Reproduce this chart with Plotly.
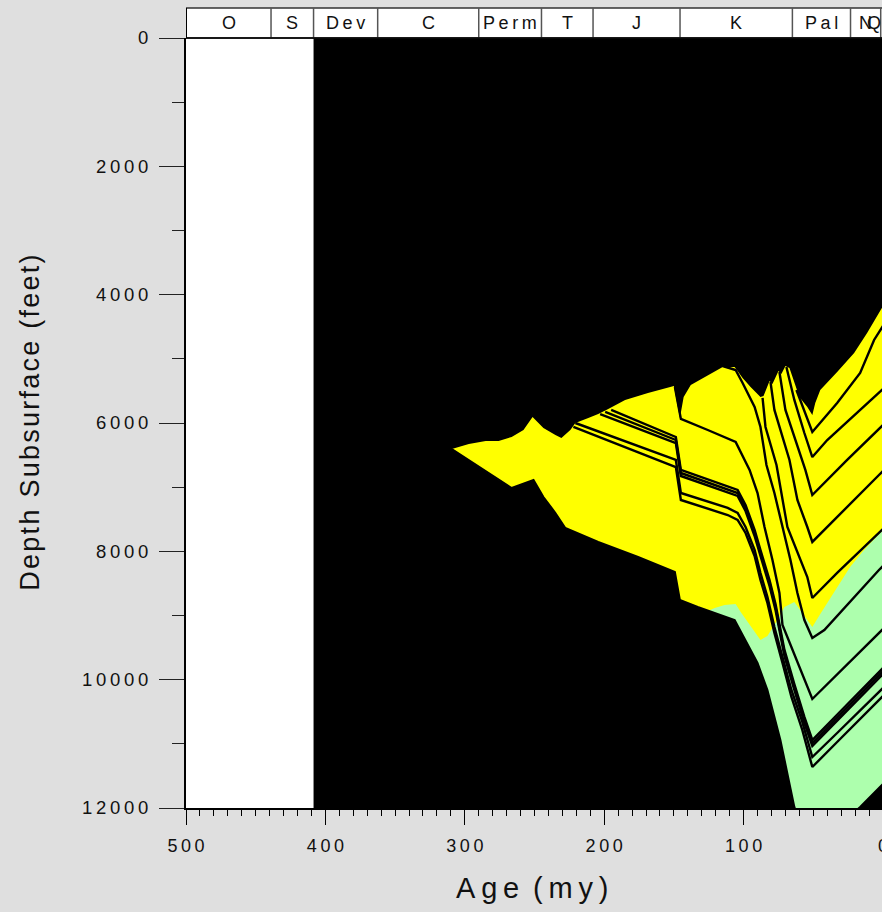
import plotly.graph_objects as go
import numpy as np

# ---------------- data ----------------
PERIODS = ["O", "S", "Dev", "C", "Perm", "T", "J", "K", "Pal", "N", "Q"]
PERIOD_START = [510, 439, 408.5, 362.5, 290, 245, 208, 145.6, 65, 23.3, 1.64]
PERIOD_END = [439, 408.5, 362.5, 290, 245, 208, 145.6, 65, 23.3, 1.64, 0]

X_TICKS = [500, 450, 400, 350, 300, 250, 200, 150, 100, 50, 0]
X_TICK_TEXT = ["500", "", "400", "", "300", "", "200", "", "100", "", "0"]
Y_TICKS = [0, 2000, 4000, 6000, 8000, 10000, 12000]

# maturity zones (age in my, depth in feet)
YELLOW_TOP_AGE = [309.3, 297.1, 285, 275.7, 266.4, 257.9, 251.4, 243.6, 235, 230.7, 224.3, 220.7,
                  211.4, 204.3, 197.1, 185, 168.6, 154.3, 150, 145.7, 143, 137.9, 125.7, 115, 106.4,
                  100.7, 95, 87.9, 85.7, 81.4, 79.3, 75, 72.9, 70, 67.1, 60, 54.3, 50.7, 48.6, 45,
                  32.9, 20.7, 11.4, 2.9, 0]
YELLOW_TOP_DEPTH = [6405, 6327, 6280, 6280, 6218, 6109, 5906, 6078, 6187, 6234, 6109, 6000,
                    5922, 5860, 5782, 5641, 5532, 5439, 5423, 5922, 5595, 5408, 5252, 5127, 5127,
                    5299, 5439, 5595, 5579, 5345, 5392, 5190, 5236, 5112, 5143, 5595, 5750, 5875, 5688, 5486,
                    5205, 4909, 4597, 4286, 4177]
GREEN_TOP_AGE = [125.7, 120.7, 113.6, 105.7, 102.1, 95, 87.9, 82.9, 75.7, 70.7, 63.6, 56.4, 50.7,
                 45, 32.9, 23.6, 13.6, 2.9, 0]
GREEN_TOP_DEPTH = [8930, 8883, 8836, 8820, 8945, 9163, 9382, 9319, 9070, 8867, 8789, 9008, 9179,
                   8976, 8571, 8244, 7979, 7745, 7667]

# burial curves
BASEMENT_AGE = [309.3, 275.7, 266.4, 250.7, 243.6, 235, 227.9, 204.3, 175.7, 149.3, 145.7, 132.9,
                106.4, 90, 82.9, 73.6, 63.6, 50.7, 16.4, 2.9, 0]
BASEMENT_DEPTH = [6405, 6888, 7013, 6888, 7153, 7402, 7636, 7854, 8088, 8322, 8758, 8867,
                  9070, 9740, 10161, 10940, 11984, 12654, 11984, 11688, 11626]

P_BOT_AGE = [222.1, 148.6, 145, 111.4, 104.3, 98.6, 92.1, 87.9, 82.9, 77.9, 72.1, 65.7, 57.9, 50.7, 32.9, 2.9, 0]
P_BOT_DEPTH = [6062, 6686, 7200, 7434, 7511, 7714, 8072, 8447, 8805, 9272, 9740, 10270, 10784, 11361, 10971, 10317, 10254]
P_TOP_AGE = [220.7, 148.6, 145, 111.4, 104.3, 98.6, 92.1, 87.9, 82.9, 77.9, 72.1, 65.7, 57.9, 50.7, 32.9, 2.9, 0]
P_TOP_DEPTH = [6000, 6576, 7091, 7324, 7402, 7621, 7979, 8337, 8711, 9179, 9646, 10161, 10658, 11205, 10831, 10192, 10130]

B_AGE = [148.6, 145, 104.3, 98.6, 92.1, 87.9, 81.4, 77.1, 70.7, 63.6, 56.4, 50.7, 32.9, 2.9, 0]
B_BOT_START = [202.9, 5860]
B_BOT_DEPTH = [6312, 6826, 7137, 7371, 7761, 8072, 8540, 8914, 9631, 10161, 10675, 11033, 10644, 9974, 9912]
B_MID_START = [199.3, 5828]
B_MID_DEPTH = [6265, 6779, 7091, 7324, 7714, 8026, 8493, 8867, 9584, 10114, 10628, 10987, 10597, 9927, 9865]
B_TOP_START = [195, 5797]
B_TOP_DEPTH = [6218, 6732, 7044, 7278, 7667, 7979, 8447, 8820, 9537, 10067, 10581, 10940, 10550, 9880, 9818]

C_AGE = [149.3, 145, 125.7, 105.7, 95.7, 90, 85, 79.3, 74.3, 72.1, 50.7, 2.9, 0]
C_DEPTH = [5439, 5937, 6109, 6296, 6732, 7091, 7621, 8135, 8649, 9148, 10301, 9272, 9210]
D_AGE = [115, 105.7, 100.7, 92.1, 87.9, 83.6, 77.9, 72.1, 66.4, 61.4, 56.4, 50.7, 42.1, 2.9, 0]
D_DEPTH = [5112, 5174, 5376, 5750, 6062, 6655, 7091, 7621, 8135, 8649, 9070, 9350, 9226, 8291, 8228]
E_AGE = [86.4, 84.3, 76.4, 68.6, 54.3, 50.7, 32.9, 2.9, 0]
E_DEPTH = [5610, 6062, 6655, 7621, 8400, 8727, 8337, 7714, 7652]
F_AGE = [80.7, 77.9, 67.1, 61.4, 54.3, 50.7, 2.9, 0]
F_DEPTH = [5361, 5797, 6576, 7200, 7621, 7854, 6810, 6748]
G_AGE = [74.3, 70, 55.7, 50.7, 25.7, 2.9, 0]
G_DEPTH = [5205, 5797, 6732, 7122, 6576, 6078, 6031]
H_AGE = [69.3, 63.6, 56.4, 50.7, 40, 16.4, 2.9, 0]
H_DEPTH = [5127, 5641, 6156, 6530, 6265, 5797, 5532, 5470]
I_AGE = [62.1, 50.7, 32.9, 16.4, 6.4, 2.9, 0]
I_DEPTH = [5486, 6140, 5688, 5221, 4706, 4582, 4488]

YELLOW = "#ffff00"
GREEN = "#adffad"
FONT = "Liberation Sans"
TS = "\u2009"


def spaced(s):
    return TS.join(s)


fig = go.Figure()


def poly(xs, ys, color):
    fig.add_trace(go.Scatter(x=xs, y=ys, mode="lines", fill="toself", fillcolor=color,
                             line=dict(width=0, color=color), hoverinfo="skip", showlegend=False))


def curve(xs, ys, width=2.4):
    fig.add_trace(go.Scatter(x=xs, y=ys, mode="lines", line=dict(color="black", width=width),
                             hoverinfo="skip", showlegend=False))


# black background from start of Devonian to present
dev = PERIOD_START[2]
poly([dev, -10, -10, dev], [-500, -500, 14000, 14000], "black")

# yellow (oil window) zone
poly(YELLOW_TOP_AGE + BASEMENT_AGE[::-1], YELLOW_TOP_DEPTH + BASEMENT_DEPTH[::-1], YELLOW)

# green (gas window) zone
g0 = GREEN_TOP_AGE[0]
sub = [(a, d) for a, d in zip(BASEMENT_AGE, BASEMENT_DEPTH) if a < g0]
g0d = float(np.interp(g0, BASEMENT_AGE[::-1], BASEMENT_DEPTH[::-1]))
poly(GREEN_TOP_AGE + [a for a, _ in reversed(sub)] + [g0],
     GREEN_TOP_DEPTH + [d for _, d in reversed(sub)] + [g0d], GREEN)

# horizons
curve(BASEMENT_AGE, BASEMENT_DEPTH, 2)
curve(P_BOT_AGE, P_BOT_DEPTH)
curve(P_TOP_AGE, P_TOP_DEPTH)
curve([B_BOT_START[0]] + B_AGE, [B_BOT_START[1]] + B_BOT_DEPTH)
curve([B_MID_START[0]] + B_AGE, [B_MID_START[1]] + B_MID_DEPTH)
curve([B_TOP_START[0]] + B_AGE, [B_TOP_START[1]] + B_TOP_DEPTH)
for xs, ys in [(C_AGE, C_DEPTH), (D_AGE, D_DEPTH), (E_AGE, E_DEPTH), (F_AGE, F_DEPTH),
               (G_AGE, G_DEPTH), (H_AGE, H_DEPTH), (I_AGE, I_DEPTH)]:
    curve(xs, ys)

# ---------------- layout ----------------
W, H = 900, 912
ML, MR, MT, MB = 186, 14, 38, 104
PH = H - MT - MB
PW = W - ML - MR
band_top = 1 + 30 / PH

shapes = []
# time-scale band
shapes.append(dict(type="rect", xref="x", yref="paper", x0=500, x1=0, y0=1, y1=band_top,
                   fillcolor="white", line=dict(color="#333333", width=1.5), layer="above"))
for b in PERIOD_END[:-1]:
    if b < 500:
        shapes.append(dict(type="line", xref="x", yref="paper", x0=b, x1=b, y0=1, y1=band_top,
                           line=dict(color="#555555", width=1.5)))
shapes.append(dict(type="line", xref="x", yref="paper", x0=500, x1=500, y0=1, y1=band_top,
                   line=dict(color="black", width=2)))
shapes.append(dict(type="line", xref="x", yref="paper", x0=500, x1=0, y0=1, y1=1,
                   line=dict(color="black", width=1.5)))

annotations = []
for name, s, e in zip(PERIODS, PERIOD_START, PERIOD_END):
    s2 = min(s, 500)
    if name == "Q":
        annotations.append(dict(x=e, y=(1 + band_top) / 2, xref="x", yref="paper", text=spaced(name),
                                showarrow=False, xanchor="right", yanchor="middle",
                                font=dict(family=FONT, size=18, color="#111")))
    else:
        annotations.append(dict(x=(s2 + e) / 2, y=(1 + band_top) / 2, xref="x", yref="paper",
                                text=spaced(name), showarrow=False, xanchor="center", yanchor="middle",
                                font=dict(family=FONT, size=18, color="#111")))

annotations.append(dict(x=(533 - ML) / PW, y=-(888 - (MT + PH)) / PH, xref="paper", yref="paper",
                        text=spaced("Age") + " " + TS + spaced("(my)"), showarrow=False,
                        xanchor="center", yanchor="middle",
                        font=dict(family=FONT, size=29, color="#111")))
annotations.append(dict(x=(29 - ML) / PW, y=0.5, xref="paper", yref="paper",
                        text="\u200a".join("Depth Subsurface (feet)"), showarrow=False, textangle=-90,
                        xanchor="center", yanchor="middle",
                        font=dict(family=FONT, size=27, color="#111")))

fig.update_layout(
    width=W, height=H,
    margin=dict(l=ML, r=MR, t=MT, b=MB, pad=0),
    paper_bgcolor="#dfdfdf", plot_bgcolor="white",
    showlegend=False,
    shapes=shapes, annotations=annotations,
    xaxis=dict(range=[500, 0], showgrid=False, zeroline=False, showline=True, linecolor="black",
               linewidth=2, ticks="outside", ticklen=15, tickwidth=1, tickcolor="black",
               tickmode="array", tickvals=X_TICKS, ticktext=[spaced(t) for t in X_TICK_TEXT],
               ticklabelstandoff=5,
               tickfont=dict(family=FONT, size=18, color="#111"),
               minor=dict(tickmode="array", tickvals=list(range(0, 501, 10)), ticks="outside",
                          ticklen=6, tickwidth=1, tickcolor="black", showgrid=False)),
    yaxis=dict(range=[12000, 0], showgrid=False, zeroline=False, showline=True, linecolor="black",
               linewidth=2, ticks="outside", ticklen=25, tickwidth=1, tickcolor="#222",
               tickmode="array", tickvals=Y_TICKS, ticktext=[spaced(str(v)) for v in Y_TICKS],
               ticklabelstandoff=7,
               tickfont=dict(family=FONT, size=18.5, color="#111"),
               minor=dict(tickmode="array", tickvals=list(range(1000, 12000, 2000)), ticks="outside",
                          ticklen=12, tickwidth=1, tickcolor="#222", showgrid=False)),
)

fig.write_html("out.html", config={"displayModeBar": False}, post_script=(
    "document.documentElement.style.overflow='hidden';"
    "document.body.style.margin='0';document.body.style.overflow='hidden';"))
